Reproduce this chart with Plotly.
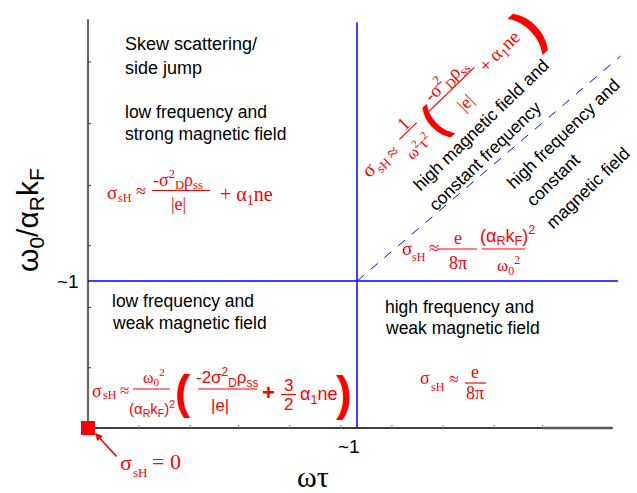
import math
import plotly.graph_objects as go

W, H = 637, 493

# ---- conceptual data (axes in units of the ~1 crossover) ----
axis_x_end = 1.95          # extent of the ωτ axis
axis_y_end = 2.78          # extent of the ω0/αRkF axis
axis_y_gray_end = 2.49     # gray part of vertical axis
thresh_x = 1.0             # ωτ ~ 1
thresh_y = 1.0             # ω0/αRkF ~ 1
blue_v_top = 2.76
blue_h_end = 1.97
diag_end = (1.98, 2.53)
x_minor_ticks = [0.19, 0.38, 0.56, 0.75, 0.94, 1.13, 1.32, 1.51, 1.69]
y_minor_ticks = [0.41, 0.82, 1.24, 1.65, 2.07, 2.49]
origin = (0.0, 0.0)
tick_labels = ["~1", "~1"]

# pixel mapping of the canvas (layout)
PX0, PX1 = 88, 357
PY0, PY1 = 428, 281
SX = PX1 - PX0
SY = PY0 - PY1
xr = [-PX0 / SX, (W - PX0) / SX]
yr = [-(H - PY0) / SY, PY0 / SY]

SANS = "Liberation Sans, Arial, sans-serif"
SERIF = "Liberation Serif, Times New Roman, serif"
RED = "#ff0000"
BLUE = "#0000ff"

fig = go.Figure()

def line_trace(xs, ys, color, width, dash="solid"):
    fig.add_trace(go.Scatter(x=xs, y=ys, mode="lines",
                             line=dict(color=color, width=width, dash=dash),
                             hoverinfo="skip", cliponaxis=False))

# axes
line_trace([0, axis_x_end], [0, 0], "black", 1.5)
line_trace([x_minor_ticks[-1], axis_x_end], [0, 0], "#555555", 2.5)
line_trace([0, 0], [0, axis_y_gray_end], "#666666", 2.2)
line_trace([0, 0], [axis_y_gray_end, axis_y_end], "black", 1.2)

# minor ticks
tx, ty = [], []
for t in x_minor_ticks:
    tx += [t, t, None]
    ty += [0, 3 / SY, None]
line_trace(tx, ty, "#888888", 1)
tx, ty = [], []
for t in y_minor_ticks:
    tx += [0, 3 / SX, None]
    ty += [t, t, None]
line_trace(tx, ty, "#333333", 1)

# regime boundaries
line_trace([thresh_x, thresh_x], [0, blue_v_top], BLUE, 1.5)
line_trace([0, blue_h_end], [thresh_y, thresh_y], BLUE, 1.5)
line_trace([thresh_x, diag_end[0]], [thresh_y, diag_end[1]], BLUE, 1, dash="dash")

# origin marker
fig.add_trace(go.Scatter(x=[origin[0]], y=[origin[1]], mode="markers",
                         marker=dict(symbol="square", size=14, color=RED),
                         hoverinfo="skip", cliponaxis=False))


def txt(s, x, y, size, color="black", family=SANS, anchor="center", angle=0,
        weight="normal"):
    fig.add_annotation(text=s, x=x / W, y=1 - y / H, xref="paper", yref="paper",
                       showarrow=False, xanchor=anchor, yanchor="middle",
                       textangle=angle,
                       font=dict(size=size, color=color, family=family,
                                 weight=weight))


def bar(x0, y0, x1, y1, color=RED, width=1.2):
    fig.add_shape(type="line", xref="paper", yref="paper",
                  x0=x0 / W, y0=1 - y0 / H, x1=x1 / W, y1=1 - y1 / H,
                  line=dict(color=color, width=width))


# tick labels and axis titles
txt(tick_labels[0], 349, 446, 19)
txt(tick_labels[1], 68, 281, 19)
txt("ωτ", 313, 476, 30, family=SERIF)
txt("ω<sub>0</sub>/α<sub>R</sub>k<sub>F</sub>", 30, 220, 30, angle=-90)

# region labels
BS = 17.5
txt("Skew scattering/", 123, 44, 18, anchor="left")
txt("side jump", 123, 68, 18, anchor="left")
txt("low frequency and", 123, 112, BS, anchor="left")
txt("strong magnetic field", 123, 134, BS, anchor="left")
txt("low frequency and", 110, 301, BS, anchor="left")
txt("weak magnetic field", 110, 323, BS, anchor="left")
txt("high frequency and", 383, 307, BS, anchor="left")
txt("weak magnetic field", 383, 328, BS, anchor="left")

ANG = 44
txt("high magnetic field and", 481, 125, BS, angle=-ANG)
txt("constant frequency", 485, 156, BS, angle=-ANG)
txt("high frequency and", 563, 134, BS, angle=-ANG)
txt("constant", 553, 180, BS, angle=-ANG)
txt("magnetic field", 588, 188, BS, angle=-ANG)

# ---- middle-left formula ----
txt("σ", 112, 192, 19, RED, SERIF)
txt("sH", 125, 198, 12, RED, SERIF)
txt("≈", 141, 191, 18, RED, SERIF)
txt("-σ<sup>2</sup><sub>D</sub>ρ<sub>ss</sub>", 178, 179, 18, RED, SERIF)
bar(152, 190.5, 210, 190.5)
txt("|e|", 178, 204, 18, RED, SERIF)
txt("+ α<sub>1</sub>ne", 218, 195, 20, RED, SERIF, anchor="left")

# ---- bottom-left formula ----
txt("σ", 97, 391, 18, RED, SERIF)
txt("sH", 110, 395, 12, RED, SERIF)
txt("≈", 124, 390, 17, RED, SERIF)
txt("ω<sub>0</sub><sup>2</sup>", 154, 377, 16, RED, SERIF)
bar(133, 389, 170, 389)
txt("(α<sub>R</sub>k<sub>F</sub>)<sup>2</sup>", 152, 408, 15, RED, SANS)
txt("(", 183, 392, 46, RED, SANS, weight="bold")
txt("-2σ<sup>2</sup><sub>D</sub>ρ<sub>ss</sub>", 227, 377, 17, RED, SANS)
bar(198, 389, 257, 389)
txt("|e|", 220, 405, 17, RED, SANS)
txt("+", 268, 392, 22, RED, SANS, weight="bold")
txt("3", 288, 385, 17, RED, SANS)
bar(281, 394.5, 296, 394.5)
txt("2", 288, 404, 17, RED, SANS)
txt("α<sub>1</sub>ne", 298, 395, 18, RED, SANS, anchor="left")
txt(")", 344, 393, 48, RED, SANS, weight="bold")

# ---- lower-right formula ----
txt("σ", 425, 378, 18, RED, SERIF)
txt("sH", 438, 387, 12, RED, SERIF)
txt("≈", 454, 379, 18, RED, SERIF)
txt("e", 475, 372, 18, RED, SERIF)
bar(465, 383, 486, 383)
txt("8π", 475, 393, 18, RED, SERIF)

# ---- upper-right (below diagonal) formula ----
txt("σ", 407, 248, 19, RED, SERIF)
txt("sH", 419, 257, 12, RED, SERIF)
txt("≈", 434, 248, 18, RED, SERIF)
txt("e", 458, 238, 18, RED, SERIF)
bar(438, 249, 477, 249)
txt("8π", 458, 263, 18, RED, SERIF)
txt("(α<sub>R</sub>k<sub>F</sub>)<sup>2</sup>", 507, 235, 18, RED, SANS)
bar(482, 249, 525, 249)
txt("ω<sub>0</sub><sup>2</sup>", 508, 265, 17, RED, SERIF)

# ---- rotated formula (high field, constant frequency) ----
th = math.radians(ANG)
ux, uy = math.cos(th), -math.sin(th)


def rbar(cx, cy, length):
    h = length / 2
    bar(cx - h * ux, cy - h * uy, cx + h * ux, cy + h * uy)


txt("σ", 368, 170, 20, RED, SERIF, angle=-ANG)
txt("sH", 383, 165, 13, RED, SERIF, angle=-ANG)
txt("≈", 392, 152, 19, RED, SERIF, angle=-ANG)
txt("1", 404, 124, 19, RED, SERIF, angle=-ANG)
rbar(408, 131, 24)
txt("ω<sup>2</sup>τ<sup>2</sup>", 418, 146, 16, RED, SERIF, angle=-ANG)
txt("(", 433, 121, 44, RED, SANS, angle=-ANG, weight="bold")
txt("-σ<sup>2</sup><sub>D</sub>ρ<sub>ss</sub>", 445, 80, 19, RED, SERIF, angle=-ANG)
rbar(451, 90, 65)
txt("|e|", 465, 103, 18, RED, SERIF, angle=-ANG)
txt("+", 485, 65, 19, RED, SERIF, angle=-ANG)
txt("α<sub>1</sub>ne", 505, 47, 19, RED, SERIF, angle=-ANG)
txt(")", 528, 27, 54, RED, SANS, angle=-ANG, weight="bold")

# ---- sigma_sH = 0 label with arrow ----
txt("σ", 126, 462, 22, RED, SERIF)
txt("sH", 140, 472, 13, RED, SERIF)
txt("= 0", 166, 461, 22, RED, SERIF)
fig.add_annotation(x=95 / W, y=1 - 433 / H, xref="paper", yref="paper",
                   text=" ", showarrow=True, ax=23, ay=25,
                   arrowhead=2, arrowsize=1, arrowwidth=1.5, arrowcolor=RED,
                   font=dict(size=1))

fig.update_layout(
    width=W, height=H, margin=dict(l=0, r=0, t=0, b=0),
    paper_bgcolor="white", plot_bgcolor="white", showlegend=False,
    xaxis=dict(range=xr, visible=False, fixedrange=True),
    yaxis=dict(range=yr, visible=False, fixedrange=True),
)
fig.write_html("out.html",
               config={"displayModeBar": False},
               post_script="document.body.style.margin='0';"
                           "document.body.style.overflow='hidden';")
